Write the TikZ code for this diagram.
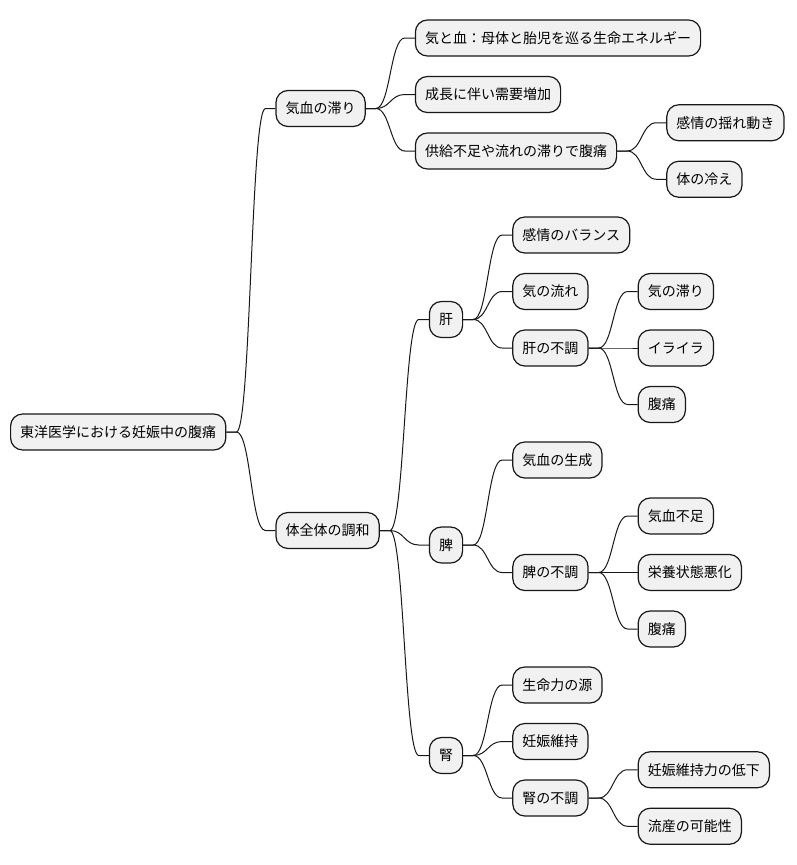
\documentclass[tikz,border=0pt]{standalone}
\usepackage{fontspec}
\usetikzlibrary{positioning, calc}
\newfontfamily\jpfont{Noto Sans CJK JP}
\definecolor{boxfill}{HTML}{F1F1F1}
\definecolor{boxline}{HTML}{181818}
\tikzset{
  rect1/.style = {
    shape = rectangle,
    draw = boxline,
    fill = boxfill,
    line width = 1.2pt,
    rounded corners = 12pt,
    inner xsep = 9.6pt,
    inner ysep = 0pt,
    minimum height = 36pt,
    font = \jpfont\fontsize{14pt}{16pt}\selectfont,
  }
}
\tikzset{
  link1/.style = {
    draw = boxline, line width = 1pt,
  }
}
\begin{document}
\begin{tikzpicture}[x = 1pt, y = 1pt]
        \useasboundingbox (0,0) rectangle (796,-865);
        \node[rect1, anchor = west](0) at (10,-432){東洋医学における妊娠中の腹痛};
        \node[rect1, right = 49pt of 0, yshift = 323.5pt](1){気血の滞り};
        \node[rect1, right = 49pt of 0, yshift = -98.5pt](2){体全体の調和};
        \node[rect1, right = 49pt of 1, yshift = 70.5pt](11){気と血：母体と胎児を巡る生命エネルギー};
        \node[rect1, right = 49pt of 1, yshift = 14pt](12){成長に伴い需要増加};
        \node[rect1, right = 49pt of 1, yshift = -42.5pt](13){供給不足や流れの滞りで腹痛};
        \node[rect1, right = 49pt of 13, yshift = 28.25pt](131){感情の揺れ動き};
        \node[rect1, right = 49pt of 13, yshift = -28.25pt](132){体の冷え};
        \node[rect1, right = 49pt of 2, yshift = 211pt](21){肝};
        \node[rect1, right = 49pt of 2, yshift = -14.5pt](22){脾};
        \node[rect1, right = 49pt of 2, yshift = -225pt](23){腎};
        \node[rect1, right = 49pt of 21, yshift = 84.5pt](211){感情のバランス};
        \node[rect1, right = 49pt of 21, yshift = 28pt](212){気の流れ};
        \node[rect1, right = 49pt of 21, yshift = -28.5pt](213){肝の不調};
        \node[rect1, right = 49pt of 213, yshift = 56.5pt](2131){気の滞り};
        \node[rect1, right = 49pt of 213](2132){イライラ};
        \node[rect1, right = 49pt of 213, yshift = -56.5pt](2133){腹痛};
        \node[rect1, right = 49pt of 22, yshift = 85pt](221){気血の生成};
        \node[rect1, right = 49pt of 22, yshift = -27.5pt](222){脾の不調};
        \node[rect1, right = 49pt of 222, yshift = 56.5pt](2221){気血不足};
        \node[rect1, right = 49pt of 222](2222){栄養状態悪化};
        \node[rect1, right = 49pt of 222, yshift = -56.5pt](2223){腹痛};
        \node[rect1, right = 49pt of 23, yshift = 70.5pt](231){生命力の源};
        \node[rect1, right = 49pt of 23, yshift = 14pt](232){妊娠維持};
        \node[rect1, right = 49pt of 23, yshift = -42.5pt](233){腎の不調};
        \node[rect1, right = 49pt of 233, yshift = 28.25pt](2331){妊娠維持力の低下};
        \node[rect1, right = 49pt of 233, yshift = -28.25pt](2332){流産の可能性};
        \foreach \p/\c in {0/1, 0/2, 1/11, 1/12, 1/13, 13/131, 13/132, 2/21, 2/22, 2/23,
                21/211, 21/212, 21/213, 213/2131, 213/2132, 213/2133, 22/221, 22/222,
                222/2221, 222/2222, 222/2223, 23/231, 23/232, 23/233, 233/2331, 233/2332}
            \draw[link1](\p.east) -- ++(10,0) .. controls +(14.5,0) and +(-14.5,0) .. ($(\c.west)+(-10,0)$) -- (\c.west);
    \end{tikzpicture}
\end{document}
